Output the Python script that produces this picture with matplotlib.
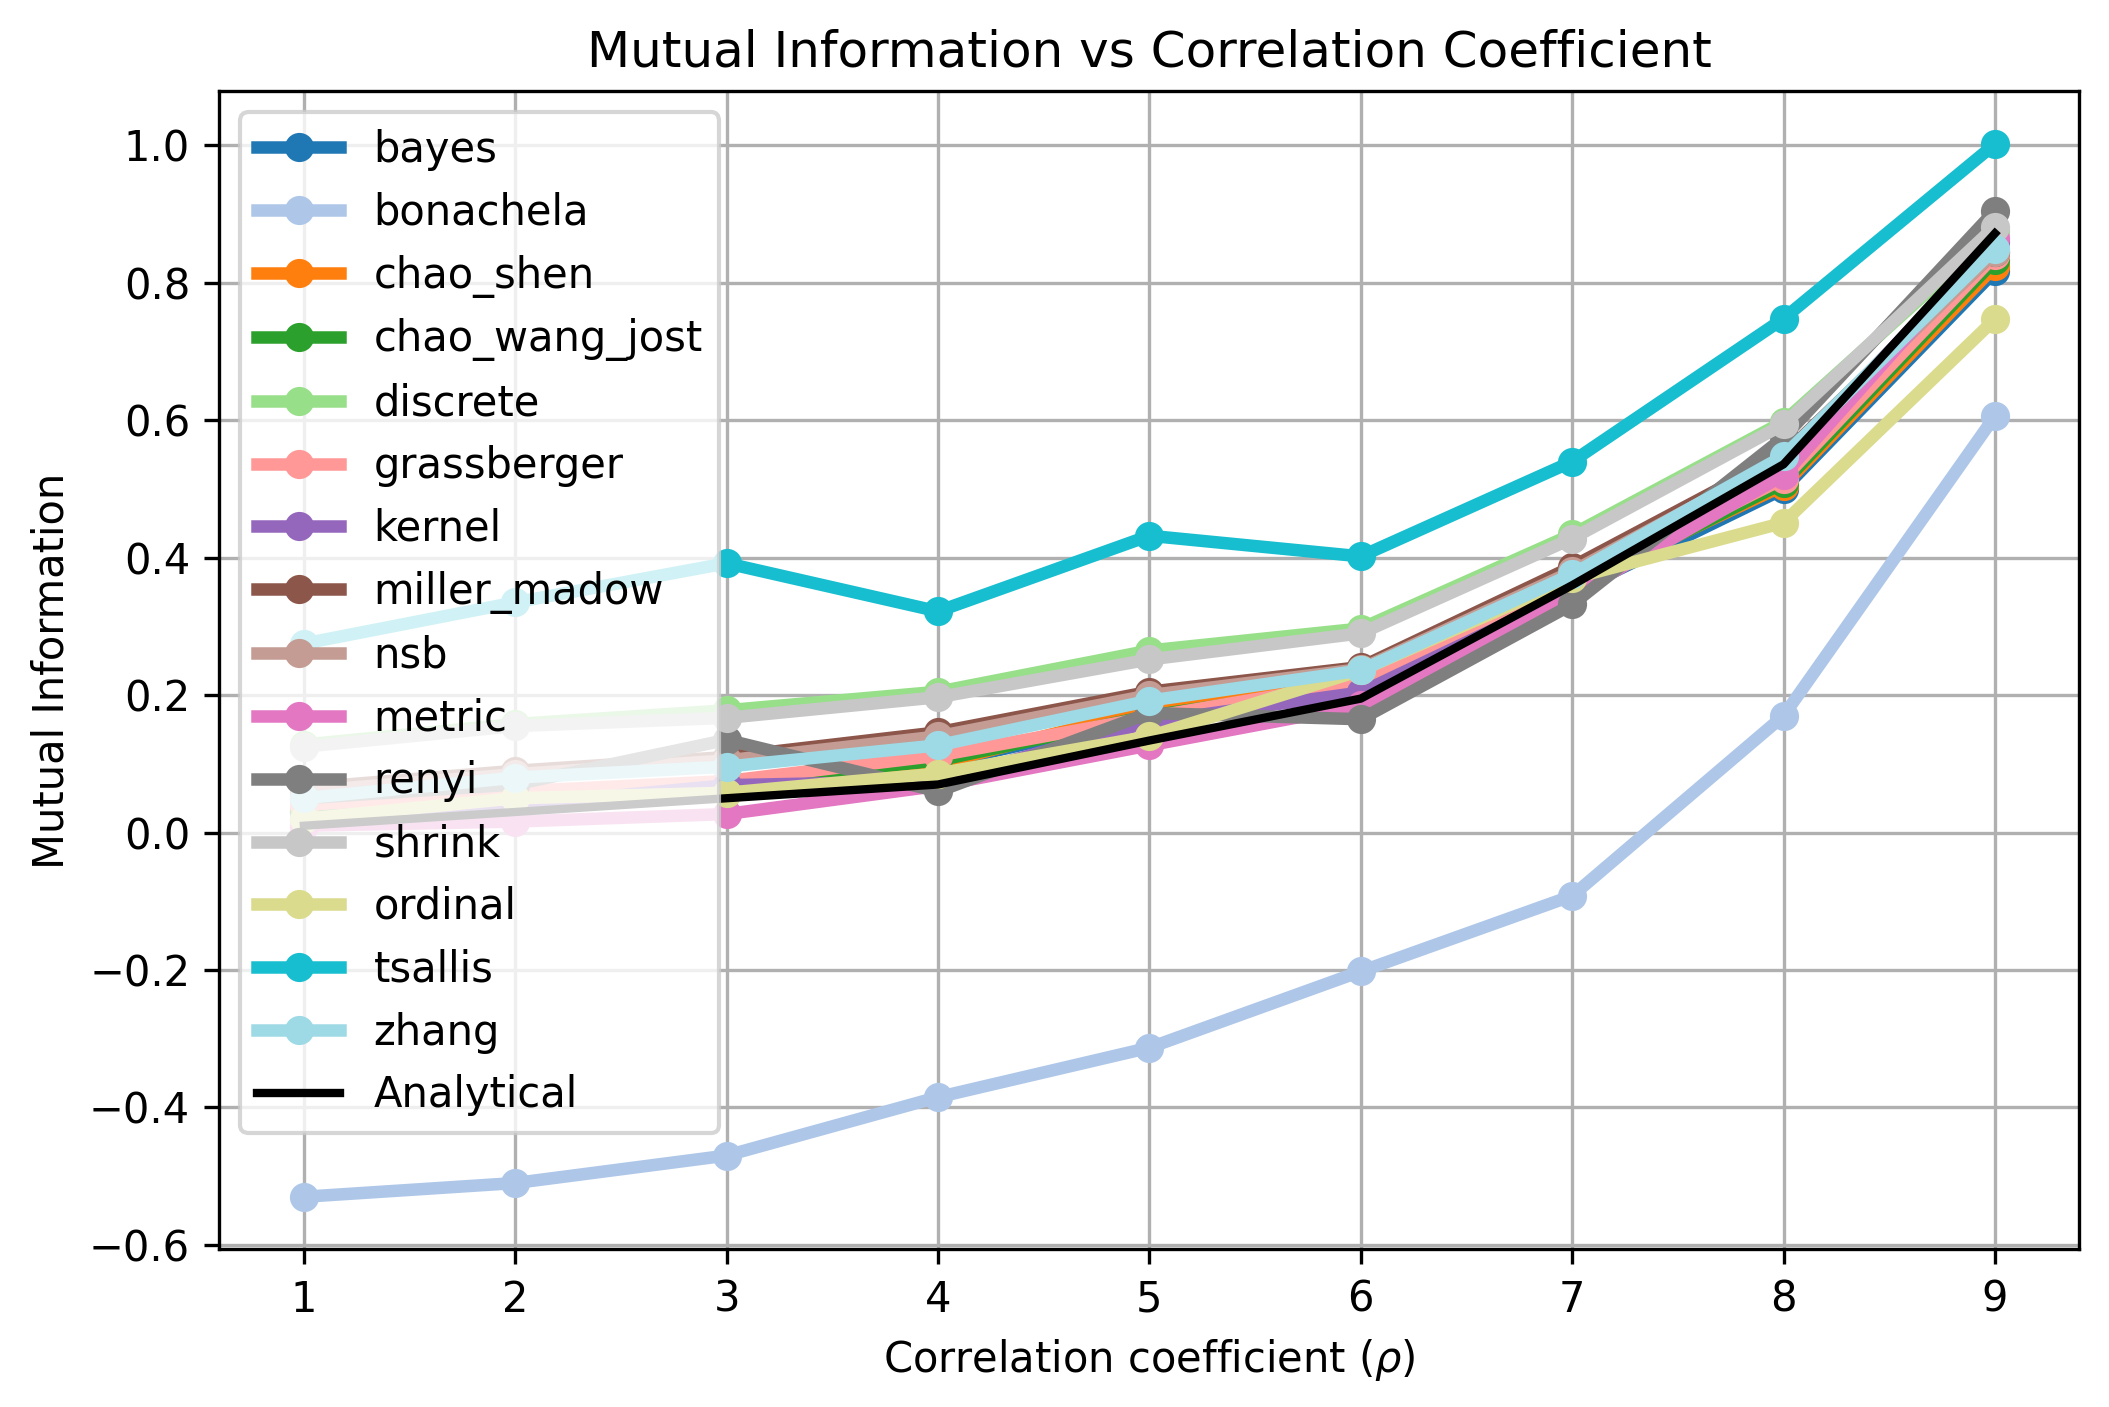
import numpy as np
import matplotlib
matplotlib.use("Agg")
import matplotlib.pyplot as plt

rho=[1,2,3,4,5,6,7,8,9]

names=[
"bayes",
"bonachela",
"chao_shen",
"chao_wang_jost",
"discrete",
"grassberger",
"kernel",
"miller_madow",
"nsb",
"metric",
"renyi",
"shrink",
"ordinal",
"tsallis",
"zhang"
]

bayes=[0.03,0.05,0.07,0.10,0.17,0.22,0.35,0.50,0.817]
bonachela=[-0.53,-0.51,-0.47,-0.385,-0.313,-0.202,-0.092,0.17,0.606]
chao_shen=[0.035,0.055,0.07,0.10,0.18,0.22,0.36,0.505,0.824]
chao_wang_jost=[0.03,0.05,0.072,0.105,0.17,0.215,0.355,0.509,0.833]
discrete=[0.128,0.158,0.178,0.205,0.265,0.297,0.434,0.598,0.875]
grassberger=[0.04,0.06,0.075,0.112,0.168,0.22,0.36,0.515,0.84]
kernel=[0.02,0.04,0.069,0.075,0.161,0.204,0.35,0.54,0.86]
miller_madow=[0.065,0.09,0.11,0.146,0.205,0.241,0.387,0.55,0.845]
nsb=[0.06,0.085,0.105,0.14,0.2,0.238,0.38,0.545,0.845]
metric=[0.01,0.016,0.027,0.068,0.127,0.185,0.345,0.52,0.865]
renyi=[0.05,0.07,0.135,0.06,0.174,0.165,0.332,0.575,0.905]
shrink=[0.125,0.155,0.167,0.197,0.252,0.29,0.428,0.594,0.882]
ordinal=[0.02,0.05,0.058,0.086,0.14,0.236,0.37,0.451,0.747]
tsallis=[0.275,0.335,0.392,0.322,0.432,0.402,0.54,0.748,1.002]
zhang=[0.05,0.08,0.096,0.127,0.192,0.236,0.376,0.548,0.85]

analytical=[0.01,0.03,0.05,0.07,0.134,0.195,0.36,0.536,0.872]

series=[
bayes,bonachela,chao_shen,chao_wang_jost,discrete,grassberger,kernel,
miller_madow,nsb,metric,renyi,shrink,ordinal,tsallis,zhang
]

colors=plt.cm.tab20(np.linspace(0,1,len(names)))

plt.figure(figsize=(7.03,4.69),dpi=300)
plt.subplots_adjust(left=0.104,right=0.986,top=0.935,bottom=0.112)

for name,vals,c in zip(names,series,colors):

    plt.plot(
        rho,
        vals,
        marker="o",
        linewidth=3,
        color=c,
        label=name
    )

plt.plot(
    rho,
    analytical,
    color="black",
    linewidth=2,
    label="Analytical"
)

plt.xlabel("Correlation coefficient ($\\rho$)")
plt.ylabel("Mutual Information")
plt.title("Mutual Information vs Correlation Coefficient")

plt.grid(True)
plt.legend(loc="upper left")

plt.savefig("out.png",dpi=300)
